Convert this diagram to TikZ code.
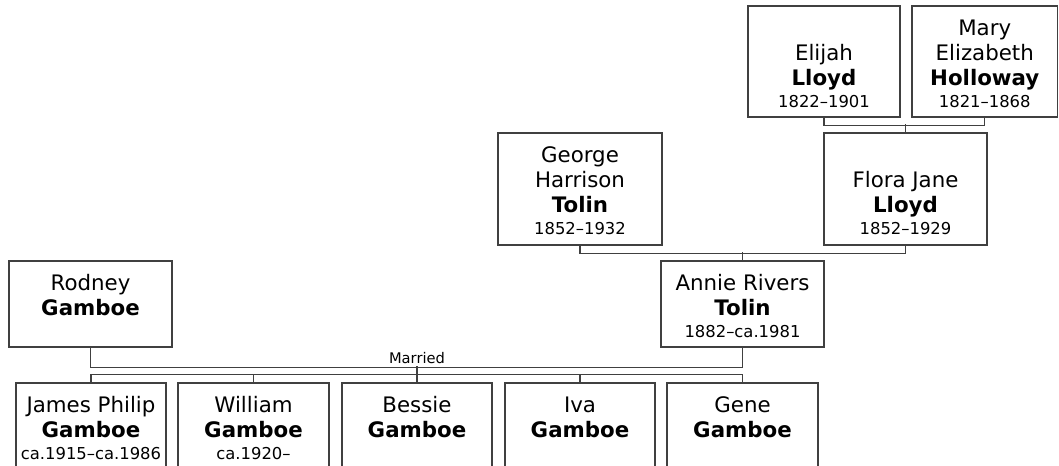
\documentclass[tikz,border=0pt]{standalone}
\usepackage{fontspec}
\setmainfont{DejaVu Sans}
\usetikzlibrary{fit}
\newcommand\namefont{\fontsize{16}{18.75}\selectfont}
\newcommand\yrs[1]{\\[-2.625pt]{\fontsize{12.3}{18.75}\selectfont\strut #1}}
\tikzset{
  person/.style={draw=black!75, line width=1.1pt, inner sep=0pt},
  ptext/.style={anchor=north, inner sep=0pt, align=center, font=\namefont, text=black},
  link/.style={draw=black!75, line width=1pt},
}
\begin{document}
\begin{tikzpicture}[x=0.75pt,y=-0.75pt]
\useasboundingbox (0,0) rectangle (1059,466);
\clip (0,0) rectangle (1059,466);
\fill[white] (0,0) rectangle (1059,466);
% boxes
\node[person, fit={(748,6) (900,117)}] (elijah) {};
\node[person, fit={(912,6) (1057.5,117)}] (mary) {};
\node[person, fit={(498,133) (662,245)}] (george) {};
\node[person, fit={(824,133) (987,245)}] (flora) {};
\node[person, fit={(9,261) (172,347)}] (rodney) {};
\node[person, fit={(661,261) (824,347)}] (annie) {};
\node[person, fit={(16,383) (166,520)}] (james) {};
\node[person, fit={(178,383) (329,520)}] (william) {};
\node[person, fit={(342,383) (492,520)}] (bessie) {};
\node[person, fit={(505,383) (655,520)}] (iva) {};
\node[person, fit={(667,383) (818,520)}] (gene) {};
% texts
\node[ptext] (elijahT) at ([yshift=-28.125pt]elijah.north) {\strut Elijah\\\strut\textbf{Lloyd}\yrs{1822–1901}};
\node[ptext] (maryT) at ([yshift=-9.375pt]mary.north) {\strut Mary\\\strut Elizabeth\\\strut\textbf{Holloway}\yrs{1821–1868}};
\node[ptext] (georgeT) at ([yshift=-9.375pt]george.north) {\strut George\\\strut Harrison\\\strut\textbf{Tolin}\yrs{1852–1932}};
\node[ptext] (floraT) at ([yshift=-28.125pt]flora.north) {\strut Flora Jane\\\strut\textbf{Lloyd}\yrs{1852–1929}};
\node[ptext] (rodneyT) at ([yshift=-9.375pt]rodney.north) {\strut Rodney\\\strut\textbf{Gamboe}};
\node[ptext] (annieT) at ([yshift=-9.375pt]annie.north) {\strut Annie Rivers\\\strut\textbf{Tolin}\yrs{1882–ca.1981}};
\node[ptext] (jamesT) at ([yshift=-9.375pt]james.north) {\strut James Philip\\\strut\textbf{Gamboe}\yrs{ca.1915–ca.1986}};
\node[ptext] (williamT) at ([yshift=-9.375pt]william.north) {\strut William\\\strut\textbf{Gamboe}\yrs{ca.1920–}};
\node[ptext] (bessieT) at ([yshift=-9.375pt]bessie.north) {\strut Bessie\\\strut\textbf{Gamboe}};
\node[ptext] (ivaT) at ([yshift=-9.375pt]iva.north) {\strut Iva\\\strut\textbf{Gamboe}};
\node[ptext] (geneT) at ([yshift=-9.375pt]gene.north) {\strut Gene\\\strut\textbf{Gamboe}};
% connectors
\draw[link] (elijah.south) -- ++(0,8) -| (mary.south);
\draw[link] (flora.north) -- ++(0,-8);
\draw[link] (george.south) -- ++(0,8) -| (flora.south);
\draw[link] (annie.north) -- ++(0,-8);
\draw[link] (rodney.south) -- ++(0,20) -| (annie.south);
\draw[link] (james.north) -- ++(0,-8) -| (gene.north);
\draw[link] (william.north) -- ++(0,-8);
\draw[link] (bessie.north) -- ++(0,-16);
\draw[link] (iva.north) -- ++(0,-8);
\node[font=\fontsize{11}{13}\selectfont, anchor=base, inner sep=0pt] (married) at (417,363) {Married};
\end{tikzpicture}
\end{document}
